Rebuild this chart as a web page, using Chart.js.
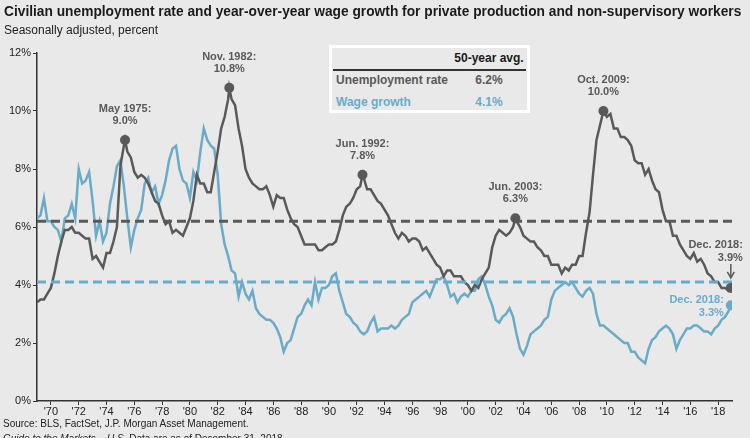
<!DOCTYPE html>
<html>
<head>
<meta charset="utf-8">
<script src="https://cdn.jsdelivr.net/npm/chart.js@4.4.1/dist/chart.umd.min.js"></script>
<style>
  html, body { margin: 0; padding: 0; background: #e9e9e9; }
  #wrap { position: relative; width: 750px; height: 438px; overflow: hidden; font-family: "Liberation Sans", Arial, sans-serif; }
  #c { position: absolute; left: 0; top: 0; }
  .txt { position: absolute; white-space: nowrap; }
  #title { left: 4px; top: 4px; font-size: 14px; line-height: 16px; font-weight: bold; color: #1a1a1a; }
  #subtitle { left: 4px; top: 23px; font-size: 12px; line-height: 14px; color: #222; }
  #source { left: 3px; top: 418px; font-size: 10px; line-height: 12px; color: #222; }
  #source2 { left: 3px; top: 433px; font-size: 10px; line-height: 12px; color: #222; }
  #avg { position: absolute; left: 329px; top: 45px; width: 201px; height: 68px; box-sizing: border-box; border: 3px solid #fff; background: #e9e9e9; }
  #avg .t { position: absolute; font-size: 12px; line-height: 14px; font-weight: bold; white-space: nowrap; }
  #avg .c { transform: translateX(-50%); }
  #avg .sep { position: absolute; left: 1px; right: 1px; top: 21px; height: 2px; background: #333; }
</style>
</head>
<body>
<div id="wrap">
  <canvas id="c" width="750" height="438"></canvas>
  <div class="txt" id="title">Civilian unemployment rate and year-over-year wage growth for private production and non-supervisory workers</div>
  <div class="txt" id="subtitle">Seasonally adjusted, percent</div>
  <div id="avg">
    <div class="t c" style="left:157px;top:3px;color:#1a1a1a;">50-year avg.</div>
    <div class="sep"></div>
    <div class="t" id="unName" style="left:4px;top:25px;color:#595959;"></div>
    <div class="t c" id="unVal" style="left:157px;top:25px;color:#595959;"></div>
    <div class="t" id="wgName" style="left:4px;top:47px;color:#6aabc8;"></div>
    <div class="t c" id="wgVal" style="left:157px;top:47px;color:#6aabc8;"></div>
  </div>
  <div class="txt" id="source">Source: BLS, FactSet, J.P. Morgan Asset Management.</div>
  <div class="txt" id="source2"><i>Guide to the Markets – U.S.</i> Data are as of December 31, 2018.</div>
</div>
<script>
// series names and 50-year averages
const seriesNames = ['Unemployment rate', 'Wage growth'];
const seriesAvg = [6.2, 4.1];

// x-axis ticks (years)
const yearTicks = [1970, 1972, 1974, 1976, 1978, 1980, 1982, 1984, 1986, 1988, 1990, 1992,
  1994, 1996, 1998, 2000, 2002, 2004, 2006, 2008, 2010, 2012, 2014, 2016, 2018];
const yTicks = [0, 2, 4, 6, 8, 10, 12];

// dates: Jan/Apr/Jul/Oct from 1969 to 2018, then Dec. 2018
const dates = [];
for (let yr = 1969; yr <= 2018; yr++) {
  for (let q = 0; q < 4; q++) dates.push(yr + q * 3 / 12);
}
dates.push(2018 + 11 / 12);

// unemployment rate, %
const unemployment = [
  3.4, 3.5, 3.5, 3.7,   // 1969
  3.9, 4.4, 5.0, 5.5,   // 1970
  5.9, 5.9, 6.0, 5.8,
  5.8, 5.7, 5.6, 5.6,
  4.9, 5.0, 4.8, 4.6,
  5.1, 5.1, 5.5, 6.0,
  8.1, 8.8, 8.6, 8.4,   // 1975
  7.9, 7.7, 7.8, 7.7,
  7.5, 7.2, 6.9, 6.8,
  6.4, 6.1, 6.2, 5.8,
  5.9, 5.8, 5.7, 6.0,
  6.3, 6.9, 7.8, 7.5,   // 1980
  7.5, 7.2, 7.2, 7.9,
  8.6, 9.4, 9.8, 10.4,
  10.4, 10.2, 9.4, 8.8,
  8.0, 7.7, 7.5, 7.4,
  7.3, 7.3, 7.4, 7.1,   // 1985
  6.7, 7.1, 7.0, 7.0,
  6.6, 6.3, 6.1, 6.0,
  5.7, 5.4, 5.4, 5.4,
  5.4, 5.2, 5.2, 5.3,
  5.4, 5.4, 5.5, 5.9,   // 1990
  6.4, 6.7, 6.8, 7.0,
  7.3, 7.4, 7.7, 7.3,
  7.3, 7.1, 6.9, 6.8,
  6.6, 6.4, 6.1, 5.8,
  5.6, 5.8, 5.7, 5.5,   // 1995
  5.6, 5.6, 5.5, 5.2,
  5.3, 5.1, 4.9, 4.7,
  4.6, 4.3, 4.5, 4.5,
  4.3, 4.3, 4.3, 4.1,
  4.0, 3.8, 4.0, 3.9,   // 2000
  4.2, 4.4, 4.6, 5.3,
  5.7, 5.9, 5.8, 5.7,
  5.8, 6.0, 6.2, 6.0,
  5.7, 5.6, 5.5, 5.5,
  5.3, 5.2, 5.0, 5.0,   // 2005
  4.7, 4.7, 4.7, 4.4,
  4.6, 4.5, 4.7, 4.7,
  5.0, 5.0, 5.8, 6.5,
  7.8, 9.0, 9.5, 10.0,
  9.8, 9.9, 9.4, 9.4,   // 2010
  9.1, 9.1, 9.0, 8.8,
  8.3, 8.2, 8.2, 7.8,
  8.0, 7.6, 7.3, 7.2,
  6.6, 6.2, 6.2, 5.7,
  5.7, 5.4, 5.2, 5.0,   // 2015
  4.9, 5.1, 4.8, 4.9,
  4.7, 4.4, 4.3, 4.1,
  4.1, 3.9, 3.9, 3.8,
  3.9                   // Dec. 2018
];

// wage growth, % y/y
const wageGrowth = [
  6.3, 6.4, 7.0, 6.2,   // 1969
  6.2, 6.0, 5.9, 5.5,   // 1970
  6.3, 6.4, 6.8, 6.3,
  8.0, 7.5, 7.6, 7.9,
  6.9, 5.7, 6.2, 5.5,
  5.8, 6.8, 7.4, 8.1,
  8.3, 7.4, 6.3, 5.3,   // 1975
  5.9, 6.3, 6.6, 7.5,
  7.7, 7.2, 7.4, 6.8,
  7.1, 7.6, 8.3, 8.7,
  8.8, 8.0, 7.6, 7.5,
  7.0, 7.9, 7.6, 8.6,   // 1980
  9.4, 9.0, 8.8, 8.7,
  7.8, 6.1, 5.4, 5.0,
  4.5, 4.4, 3.6, 4.1,
  3.7, 3.5, 3.8, 3.2,
  3.0, 2.9, 2.8, 2.8,   // 1985
  2.7, 2.5, 2.2, 1.7,
  2.0, 2.1, 2.5, 2.9,
  3.0, 3.3, 3.5, 3.3,
  4.1, 3.5, 3.9, 3.9,
  4.0, 4.3, 4.4, 3.8,   // 1990
  3.4, 3.0, 2.9, 2.7,
  2.6, 2.4, 2.3, 2.4,
  2.7, 2.9, 2.4, 2.5,
  2.5, 2.5, 2.6, 2.5,
  2.6, 2.8, 2.9, 3.0,   // 1995
  3.4, 3.5, 3.6, 3.7,
  3.8, 3.6, 3.9, 4.2,
  4.2, 4.3, 4.0, 3.6,
  3.7, 3.4, 3.6, 3.7,
  3.6, 3.8, 3.8, 4.2,   // 2000
  4.3, 4.0, 3.6, 3.3,
  2.8, 2.7, 2.9, 3.0,
  3.2, 2.9, 2.3, 1.8,
  1.6, 1.9, 2.3, 2.4,
  2.5, 2.6, 2.8, 2.9,   // 2005
  3.5, 3.8, 3.9, 4.0,
  4.1, 4.0, 4.1, 3.9,
  3.7, 3.6, 3.8, 3.9,
  3.7, 3.0, 2.6, 2.6,
  2.5, 2.4, 2.3, 2.2,   // 2010
  2.1, 2.0, 2.0, 1.7,
  1.7, 1.5, 1.4, 1.3,
  1.8, 2.1, 2.2, 2.4,
  2.5, 2.6, 2.5, 2.3,
  1.8, 2.1, 2.3, 2.5,   // 2015
  2.5, 2.6, 2.6, 2.5,
  2.4, 2.4, 2.3, 2.5,
  2.6, 2.8, 2.9, 3.1,
  3.3                   // Dec. 2018
];

// annotated unemployment peaks
const peakNames = ['May 1975', 'Nov. 1982', 'Jun. 1992', 'Jun. 2003', 'Oct. 2009'];
const peakDates = [1975 + 4 / 12, 1982 + 10 / 12, 1992 + 5 / 12, 2003 + 5 / 12, 2009 + 9 / 12];
const peakValues = [9.0, 10.8, 7.8, 6.3, 10.0];
const lastName = 'Dec. 2018';

const DARK = '#595959';
const BLUE = '#6aabc8';
const FONT = '"Liberation Sans", Arial, sans-serif';

// title should run from x=4 to about x=742
const titleEl = document.getElementById('title');
const tw = titleEl.getBoundingClientRect().width;
titleEl.style.fontSize = (14 * 738 / tw).toFixed(2) + 'px';

// fill the avg box
document.getElementById('unName').textContent = seriesNames[0];
document.getElementById('wgName').textContent = seriesNames[1];
document.getElementById('unVal').textContent = seriesAvg[0].toFixed(1) + '%';
document.getElementById('wgVal').textContent = seriesAvg[1].toFixed(1) + '%';

// unemployment line passes through the peak months too
const unPoints = dates.map((d, i) => ({ x: d, y: unemployment[i] }));
peakDates.forEach((d, i) => {
  if (!unPoints.some(p => Math.abs(p.x - d) < 0.01)) unPoints.push({ x: d, y: peakValues[i] });
});
unPoints.sort((a, b) => a.x - b.x);
const wgPoints = dates.map((d, i) => ({ x: d, y: wageGrowth[i] }));

const lastDate = dates[dates.length - 1];
const lastUn = unemployment[unemployment.length - 1];
const lastWg = wageGrowth[wageGrowth.length - 1];

const xMin = 1969, xMax = 2019;

const labelPlugin = {
  id: 'labels',
  afterDatasetsDraw(chart) {
    const ctx = chart.ctx;
    const x = chart.scales.x, y = chart.scales.y;
    ctx.save();
    ctx.font = 'bold 11px ' + FONT;
    ctx.textBaseline = 'middle';
    ctx.textAlign = 'center';
    ctx.fillStyle = DARK;
    peakDates.forEach((d, i) => {
      const px = x.getPixelForValue(d);
      const py = y.getPixelForValue(peakValues[i]);
      ctx.fillText(peakNames[i] + ':', px, py - 31);
      ctx.fillText(peakValues[i].toFixed(1) + '%', px, py - 19);
    });

    // Dec. 2018 unemployment
    let px = x.getPixelForValue(lastDate);
    let py = y.getPixelForValue(lastUn);
    ctx.textAlign = 'right';
    ctx.fillText(lastName + ':', px + 12, py - 43);
    ctx.fillText(lastUn.toFixed(1) + '%', px + 12, py - 30);
    ctx.strokeStyle = DARK;
    ctx.lineWidth = 1.5;
    ctx.beginPath();
    ctx.moveTo(px, py - 24);
    ctx.lineTo(px, py - 11);
    ctx.stroke();
    ctx.beginPath();
    ctx.moveTo(px - 3.5, py - 16);
    ctx.lineTo(px, py - 10);
    ctx.lineTo(px + 3.5, py - 16);
    ctx.stroke();

    // Dec. 2018 wage growth
    py = y.getPixelForValue(lastWg);
    ctx.fillStyle = BLUE;
    ctx.fillText(lastName + ':', px - 7, py - 5);
    ctx.fillText(lastWg.toFixed(1) + '%', px - 7, py + 8);
    ctx.restore();
  }
};

new Chart(document.getElementById('c'), {
  type: 'line',
  data: {
    datasets: [
      {
        data: peakDates.map((d, i) => ({ x: d, y: peakValues[i] })).concat([{ x: lastDate, y: lastUn }]),
        showLine: false, pointRadius: 5, pointBackgroundColor: DARK, pointBorderWidth: 0, order: 0
      },
      {
        data: [{ x: lastDate, y: lastWg }],
        showLine: false, pointRadius: 5, pointBackgroundColor: BLUE, pointBorderWidth: 0, order: 0
      },
      {
        data: [{ x: xMin, y: seriesAvg[0] }, { x: xMax, y: seriesAvg[0] }],
        borderColor: DARK, borderWidth: 3, borderDash: [9, 5], pointRadius: 0, order: 1
      },
      {
        data: [{ x: xMin, y: seriesAvg[1] }, { x: xMax, y: seriesAvg[1] }],
        borderColor: BLUE, borderWidth: 3, borderDash: [9, 5], pointRadius: 0, order: 1
      },
      {
        label: seriesNames[0], data: unPoints,
        borderColor: DARK, borderWidth: 2.5, pointRadius: 0, tension: 0, order: 2
      },
      {
        label: seriesNames[1], data: wgPoints,
        borderColor: BLUE, borderWidth: 2.5, pointRadius: 0, tension: 0, order: 3
      }
    ]
  },
  options: {
    responsive: false,
    animation: false,
    layout: { padding: { top: 53, right: 18, left: 0, bottom: 0 } },
    plugins: { legend: { display: false }, tooltip: { enabled: false } },
    scales: {
      x: {
        type: 'linear', min: xMin, max: xMax,
        afterBuildTicks: s => { s.ticks = yearTicks.map(v => ({ value: v })); },
        afterFit: s => { s.height = 37; },
        grid: { drawOnChartArea: false, drawTicks: true, tickLength: 4, color: '#333' },
        border: { color: '#333', width: 1.5 },
        ticks: {
          callback: v => "'" + String(v).slice(2),
          font: { size: 11, family: FONT }, color: '#222', padding: 0,
          maxRotation: 0, autoSkip: false
        }
      },
      y: {
        min: 0, max: 12,
        afterBuildTicks: s => { s.ticks = yTicks.map(v => ({ value: v })); },
        afterFit: s => { s.width = 37; },
        grid: { drawOnChartArea: false, drawTicks: true, tickLength: 4, color: '#333' },
        border: { color: '#333', width: 1.5 },
        ticks: {
          callback: v => v + '%',
          font: { size: 11, family: FONT }, color: '#222', padding: 2
        }
      }
    }
  },
  plugins: [labelPlugin]
});
</script>
</body>
</html>
